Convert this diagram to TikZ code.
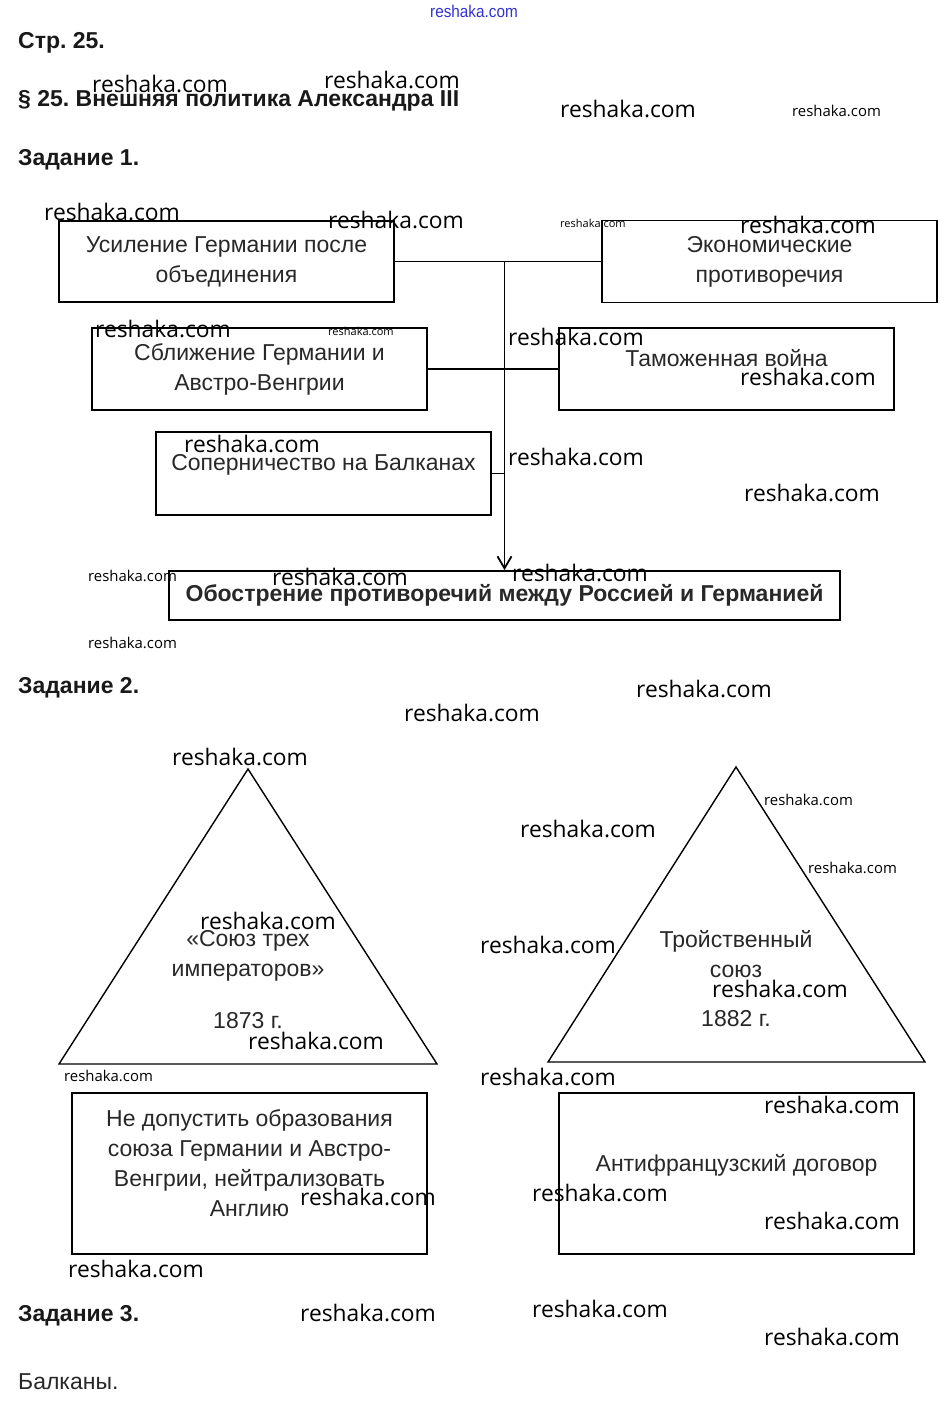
\documentclass[tikz,border=0pt]{standalone}
\usepackage{fontspec}
\setmainfont{Liberation Sans}
\newfontfamily\wmfont{Open Sans}
\usetikzlibrary{arrows.meta}
\definecolor{wmblue}{RGB}{50,50,210}
\definecolor{boxtext}{RGB}{40,40,40}
\frenchspacing

\begin{document}
\begin{tikzpicture}[x=1pt,y=-1pt,
    every node/.style={inner sep=0pt},
    box/.style={draw,line width=1.8pt,align=center,text=boxtext,
      font=\fontsize{23}{30}\selectfont},
    head/.style={anchor=west,text=black!90,font=\bfseries\fontsize{23}{26}\selectfont},
    intext/.style={align=center,text=boxtext,font=\fontsize{23}{30}\selectfont},
    wm/.style={anchor=west,font=\wmfont\fontsize{22.8}{26}\selectfont},
    wmsmall/.style={anchor=west,font=\wmfont\fontsize{14.9}{17}\selectfont},
    wmtiny/.style={anchor=west,font=\wmfont\fontsize{11}{13}\selectfont},
    link/.style={line width=1.8pt}]

\useasboundingbox[fill=white] (0,0) rectangle (946,1405);

\node[text=wmblue,font=\fontsize{17}{20}\selectfont,xscale=0.9] (logo) at (474,11) {reshaka.com};

\node[head] (page) at (18,43) {Стр. 25.};
\node[head] (para) at (18,101) {§ 25. Внешняя политика Александра III};
\node[head] (task1) at (18,160) {Задание 1.};
\node[head] (task2) at (18,688) {Задание 2.};
\node[head] (task3) at (18,1316) {Задание 3.};
\node[anchor=west,text=boxtext,font=\fontsize{23}{26}\selectfont] (answer3) at (18,1382) {Балканы.};

% task 1
\node[box,minimum width=335pt,minimum height=81pt] (usil) at (226.5,261.5)
  {Усиление Германии после\\объединения};
\node[box,minimum width=335pt,minimum height=82pt] (econ) at (769.5,261.5)
  {Экономические\\противоречия};
\node[box,minimum width=335pt,minimum height=82pt] (sbliz) at (259.5,369)
  {Сближение Германии и\\Австро-Венгрии};
\node[box,align=none,text depth=22pt,minimum width=335pt,minimum height=82pt] (tamozh) at (726.5,369)
  {Таможенная война};
\node[box,align=none,text depth=23pt,minimum width=335pt,minimum height=83pt] (balk) at (323.5,473.5)
  {Соперничество на Балканах};
\node[box,font=\bfseries\fontsize{23}{30}\selectfont,minimum width=671pt,minimum height=49pt] (obostr) at (504.5,595.5)
  {Обострение противоречий между Россией и Германией};

\draw[link] (usil.east) -- (econ.west);
\draw[link] (sbliz.east) -- (tamozh.west);
\draw[link] (balk.east) -- (balk.east -| obostr.north);
\draw[link,-{Straight Barb[length=12pt,width=14pt]}] (usil.east -| obostr.north) -- (obostr.north);

% task 2
\draw[line width=1.4pt] (248,769) -- (437,1064) -- (59,1064) -- cycle;
\draw[line width=1.4pt] (736,767) -- (925,1062) -- (548,1062) -- cycle;
\node[intext] (dreik) at (248,956) {«Союз трех\\императоров»};
\node[intext] (dreikyear) at (248,1021) {1873 г.};
\node[intext] (triple) at (736,954) {Тройственный\\союз};
\node[intext] (tripleyear) at (736,1019) {1882 г.};

\node[box,text depth=20pt,minimum width=355pt,minimum height=161pt] (goal1) at (249.5,1173.5)
  {Не допустить образования\\союза Германии и Австро-\\Венгрии, нейтрализовать\\Англию};
\node[box,align=none,text depth=21pt,minimum width=355pt,minimum height=161pt] (goal2) at (736.5,1173.5)
  {Антифранцузский договор};

% watermarks
\foreach \x/\y [count=\i] in {92/84,324/80,560/109,44/212,328/220,740/225,95/329,
    508/337,740/377,184/444,508/457,744/493,272/577,512/573,636/689,404/713,
    172/757,520/829,200/921,480/945,712/989,248/1041,480/1077,764/1105,
    300/1197,532/1193,764/1221,68/1269,300/1313,532/1309,764/1337}
  \node[wm] (wm\i) at (\x,\y) {reshaka.com};
\foreach \x/\y [count=\i] in {792/111,88/576,88/643,764/800,808/868,64/1076}
  \node[wmsmall] (wms\i) at (\x,\y) {reshaka.com};
\foreach \x/\y [count=\i] in {560/223,328/331}
  \node[wmtiny] (wmt\i) at (\x,\y) {reshaka.com};

\end{tikzpicture}
\end{document}
